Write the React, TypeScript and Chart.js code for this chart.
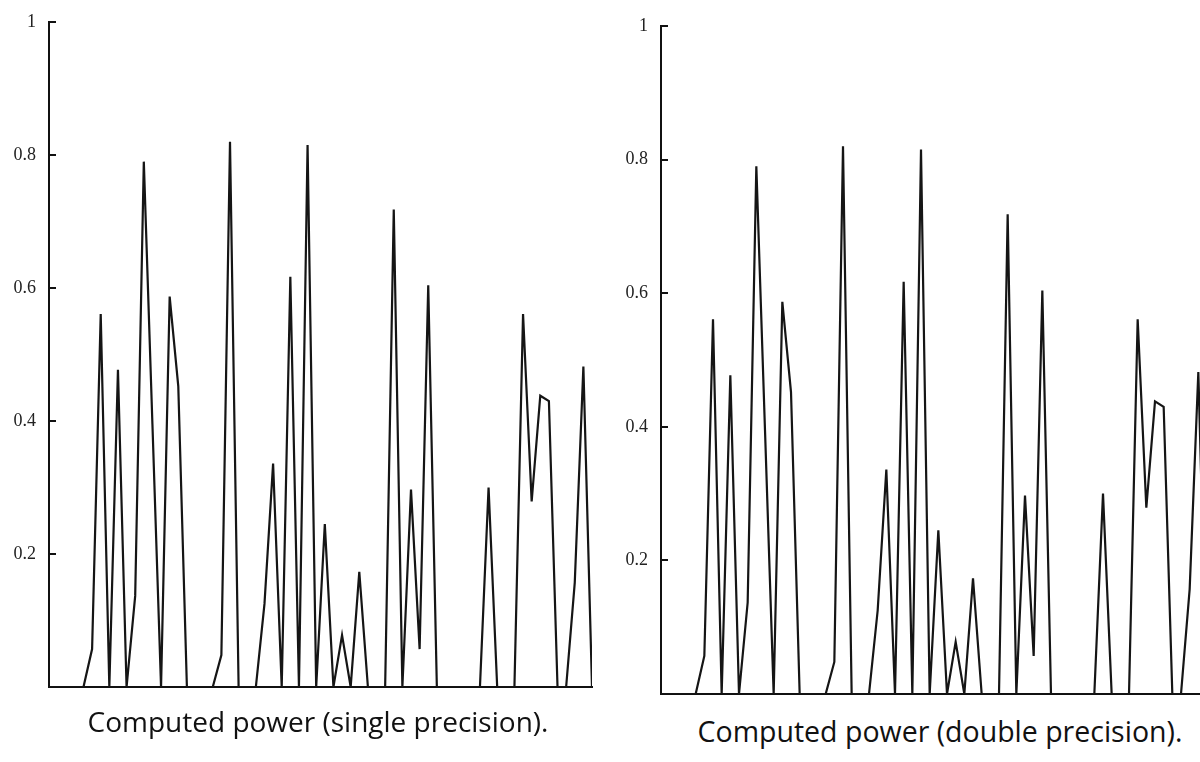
import React, { useEffect, useRef } from "react";
import { Chart, registerables } from "chart.js";

Chart.register(...registerables);

// Spectrum bin index 0..63
const bins: number[] = Array.from({ length: 64 }, (_, i) => i);

const singlePrecision: number[] = [
  0, 0, 0, 0, 0, 0.057, 0.561, 0, 0.477, 0, 0.137, 0.79, 0.395, 0, 0.587, 0.452,
  0, 0, 0, 0, 0.048, 0.82, 0, 0, 0, 0.125, 0.336, 0, 0.617, 0, 0.815, 0,
  0.245, 0, 0.078, 0, 0.173, 0, 0, 0, 0.718, 0, 0.297, 0.057, 0.604, 0, 0, 0,
  0, 0, 0, 0.3, 0, 0, 0, 0.561, 0.279, 0.438, 0.43, 0, 0, 0.157, 0.482, 0,
];

const doublePrecision: number[] = [
  0, 0, 0, 0, 0, 0.057, 0.561, 0, 0.477, 0, 0.137, 0.79, 0.395, 0, 0.587, 0.452,
  0, 0, 0, 0, 0.048, 0.82, 0, 0, 0, 0.125, 0.336, 0, 0.617, 0, 0.815, 0,
  0.245, 0, 0.078, 0, 0.173, 0, 0, 0, 0.718, 0, 0.297, 0.057, 0.604, 0, 0, 0,
  0, 0, 0, 0.3, 0, 0, 0, 0.561, 0.279, 0.438, 0.43, 0, 0, 0.157, 0.482, 0,
];

const yTickValues: number[] = [0.2, 0.4, 0.6, 0.8, 1];
const yTickLabels: string[] = ["0.2", "0.4", "0.6", "0.8", "1"];

const titles: string[] = [
  "Computed power (single precision).",
  "Computed power (double precision).",
];

const inwardTicks = {
  id: "inwardTicks",
  afterDraw(chart: any) {
    const y = chart.scales.y;
    const ctx = chart.ctx;
    const left = chart.chartArea.left;
    ctx.save();
    ctx.strokeStyle = "#111";
    ctx.lineWidth = 2;
    yTickValues.forEach((v) => {
      const py = Math.round(y.getPixelForValue(v));
      ctx.beginPath();
      ctx.moveTo(left, py);
      ctx.lineTo(left + 7, py);
      ctx.stroke();
    });
    ctx.restore();
  },
};

function PowerChart({
  values,
  padding,
}: {
  values: number[];
  padding: { top: number; bottom: number; left: number; right: number };
}) {
  const ref = useRef<HTMLCanvasElement>(null);
  useEffect(() => {
    if (!ref.current) return;
    const chart = new Chart(ref.current, {
      type: "line",
      data: {
        datasets: [
          {
            data: values.map((v, i) => ({ x: bins[i], y: v })),
            borderColor: "#151515",
            borderWidth: 2.2,
            pointRadius: 0,
            tension: 0,
            fill: false,
          },
        ],
      },
      options: {
        animation: false,
        responsive: false,
        maintainAspectRatio: false,
        layout: { padding },
        plugins: {
          legend: { display: false },
          tooltip: { enabled: false },
          title: { display: false },
        },
        scales: {
          x: {
            type: "linear",
            min: bins[0],
            max: bins[bins.length - 1],
            grid: { display: false, drawTicks: false },
            ticks: { display: false },
            border: { display: true, color: "#111", width: 2 },
            afterFit: (s: any) => {
              s.height = 0;
              s.paddingLeft = 0;
              s.paddingRight = 0;
            },
          },
          y: {
            type: "linear",
            min: 0,
            max: 1,
            grid: { display: false, drawTicks: false },
            border: { display: true, color: "#111", width: 2 },
            afterBuildTicks: (s: any) => {
              s.ticks = yTickValues.map((v) => ({ value: v }));
            },
            afterFit: (s: any) => {
              s.width = 49;
              s.paddingTop = 0;
              s.paddingBottom = 0;
            },
            ticks: {
              padding: 13,
              color: "#222",
              font: { family: "Liberation Serif", size: 18 },
              callback: (v: any) => {
                const idx = yTickValues.findIndex((t) => Math.abs(t - Number(v)) < 1e-6);
                return idx >= 0 ? yTickLabels[idx] : "";
              },
            },
          },
        },
      },
      plugins: [inwardTicks],
    });
    return () => chart.destroy();
  }, [values]);
  return <canvas ref={ref} width={612} height={712} style={{ display: "block", width: 612, height: 712 }} />;
}

export default function App() {
  return (
    <div
      style={{
        position: "absolute",
        left: 0,
        top: 0,
        width: 1200,
        height: 762,
        overflow: "hidden",
        background: "#fff",
      }}
    >
      <div style={{ position: "absolute", left: 0, top: 0 }}>
        <PowerChart values={singlePrecision} padding={{ top: 22, bottom: 25, left: 0, right: 20 }} />
      </div>
      <div style={{ position: "absolute", left: 612, top: 0 }}>
        <PowerChart values={doublePrecision} padding={{ top: 26, bottom: 18, left: 0, right: 17 }} />
      </div>
      <div
        style={{
          position: "absolute",
          left: 18,
          width: 600,
          top: 707,
          textAlign: "center",
          fontFamily: "'Open Sans', sans-serif",
          fontSize: 28,
          lineHeight: "1",
          color: "#111",
          whiteSpace: "nowrap",
        }}
      >
        {titles[0]}
      </div>
      <div
        style={{
          position: "absolute",
          left: 640,
          width: 600,
          top: 717,
          textAlign: "center",
          fontFamily: "'Open Sans', sans-serif",
          fontSize: 28.5,
          lineHeight: "1",
          color: "#111",
          whiteSpace: "nowrap",
        }}
      >
        {titles[1]}
      </div>
    </div>
  );
}
